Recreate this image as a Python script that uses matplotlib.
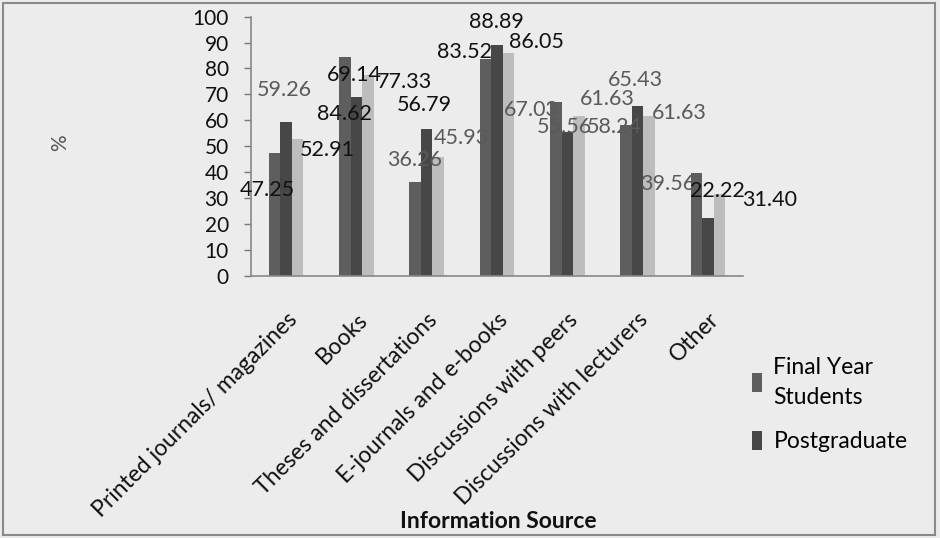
import matplotlib
matplotlib.use("Agg")
import matplotlib.pyplot as plt
import matplotlib.transforms as mtransforms
from matplotlib.patches import Rectangle, Patch
import numpy as np

plt.rcParams['font.family'] = ['Lato', 'DejaVu Sans']

# ---- data ----
categories = ["Printed journals/ magazines", "Books", "Theses and dissertations",
              "E-journals and e-books", "Discussions with peers",
              "Discussions with lecturers", "Other"]
final_year = [47.25, 84.62, 36.26, 83.52, 67.03, 58.24, 39.56]
postgraduate = [59.26, 69.14, 56.79, 88.89, 55.56, 65.43, 22.22]
total = [52.91, 77.33, 45.93, 86.05, 61.63, 61.63, 31.40]
yticks = [0, 10, 20, 30, 40, 50, 60, 70, 80, 90, 100]

# ---- style ----
colors = ['#5e5e5e', '#474747', '#bdbdbd']
bar_w = 0.164
BLK, GRY = '#111111', '#5a5a5a'
# label offsets (pixels) relative to each bar's top centre, and colours
offsets = [
    [(-7, -37), (0, -57), (-1, 22), (-21, 7), (-24, -8), (-12, -2), (-29, -11)],
    [(-2, 32), (-2, 22), (-2, 24), (-1, 23), (-3, 5), (-2, 26), (10, 27)],
    [(30, -11), (37, -7), (23, 19), (28, 11), (28, 17), (30, 3), (50, -6)],
]
lcolors = [
    [BLK, BLK, GRY, BLK, GRY, GRY, GRY],
    [GRY, BLK, BLK, BLK, GRY, GRY, BLK],
    [BLK, BLK, GRY, BLK, GRY, GRY, BLK],
]

fig = plt.figure(figsize=(9.4, 5.38), dpi=100)
fig.patch.set_facecolor('#ececec')
fig.patches.append(Rectangle((3/940, 3/538), 932/940, 532/538, transform=fig.transFigure,
                             fill=False, edgecolor='#8a8a8a', linewidth=1.5))

ax = fig.add_axes([251/940, 1-275.7/538, 492/940, 259/538])
ax.set_facecolor('none')
x = np.arange(len(categories))
series = [final_year, postgraduate, total]
for k, vals in enumerate(series):
    xs = x + (k - 1) * bar_w
    ax.bar(xs, vals, width=bar_w, color=colors[k], linewidth=0)
    for i, v in enumerate(vals):
        ax.annotate(f"{v:.2f}", (xs[i], v), xytext=offsets[k][i], textcoords='offset pixels',
                    ha='center', va='center', fontsize=15.5, color=lcolors[k][i])

ax.set_xlim(-0.5, len(categories) - 0.5)
ax.set_ylim(0, 100)
ax.set_yticks(yticks)
ax.tick_params(axis='y', direction='out', length=5, width=1, color='#777777', pad=11,
               labelsize=15, labelcolor='#111111')
ax.set_xticks(x)
ax.set_xticklabels(categories, rotation=45, ha='right', rotation_mode='anchor', fontsize=16.5,
                   color='#111111')
ax.tick_params(axis='x', length=0, pad=24)
for s in ['top', 'right']:
    ax.spines[s].set_visible(False)
for s in ['left', 'bottom']:
    ax.spines[s].set_color('#888888')
    ax.spines[s].set_linewidth(1.2)

fig.text(60/940, 1-143/538, '%', rotation=90, ha='center', va='center', fontsize=15, color='#555555')
fig.text(498/940, 1-522/538, 'Information Source', ha='center', va='center', fontsize=16.5,
         fontweight='bold', color='#111111')

handles = [Patch(facecolor=colors[0]), Patch(facecolor=colors[1])]
leg = fig.legend(handles, ['Final Year\nStudents', 'Postgraduate'], loc='upper left',
                 bbox_to_anchor=(731/940, 1-336/538), frameon=False, fontsize=16.5,
                 handlelength=0.45, handleheight=0.9, handletextpad=0.5, labelspacing=1.0)
for t in leg.get_texts():
    t.set_linespacing(1.55)

fig.savefig('out.png', dpi=100, facecolor=fig.get_facecolor())
